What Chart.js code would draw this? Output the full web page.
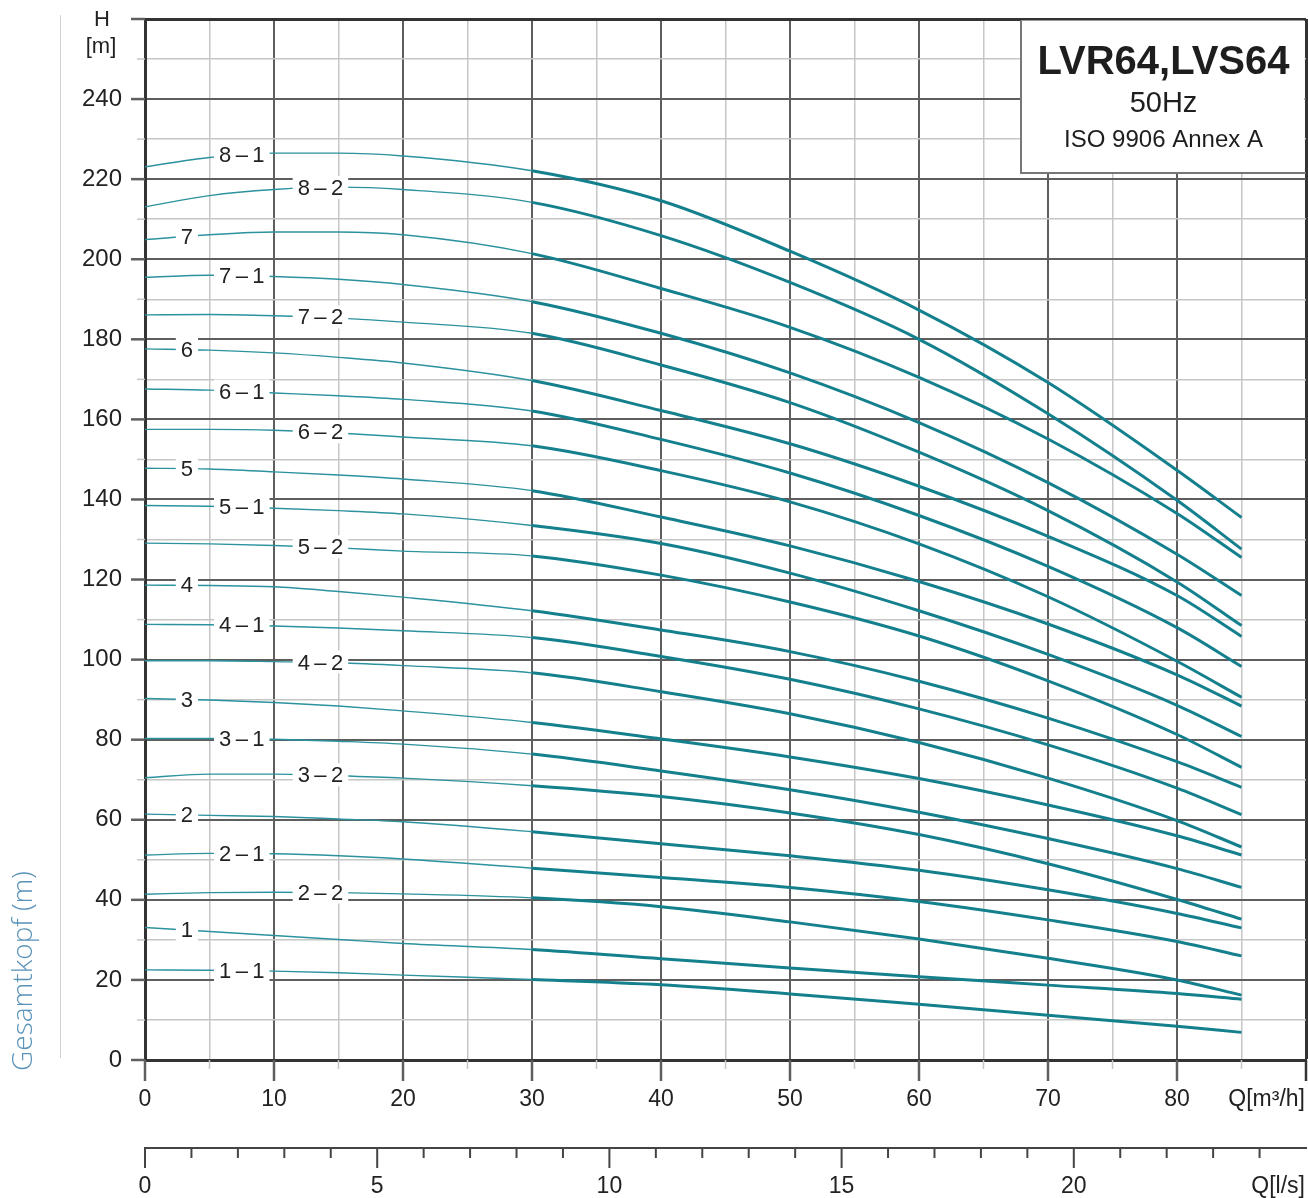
<!DOCTYPE html>
<html>
<head>
<meta charset="utf-8">
<title>LVR64, LVS64 – 50Hz</title>
<script src="https://cdn.jsdelivr.net/npm/chart.js@4.4.1/dist/chart.umd.min.js"></script>
<style>
  html, body { margin: 0; padding: 0; background: #fff; }
  canvas { display: block; }
</style>
</head>
<body>
<canvas id="pumpChart" width="1308" height="1198"></canvas>
<script>
// flow samples Q [m3/h], shared by every curve
const flowQ = [0, 5, 10, 15, 20, 30, 40, 50, 60, 70, 80, 85];

// curve names: stages - impeller trim
const curveNames = ['8-1', '8-2', '7', '7-1', '7-2', '6', '6-1', '6-2', '5', '5-1', '5-2',
  '4', '4-1', '4-2', '3', '3-1', '3-2', '2', '2-1', '2-2', '1', '1-1'];

// head H [m], one array per curve
const head81 = [223.1, 225.4, 226.5, 226.5, 225.8, 222.1, 214.6, 202.0, 187.3, 169.2, 147.3, 135.5];
const head82 = [213.1, 215.9, 217.4, 218.0, 217.4, 214.2, 205.9, 194.2, 180.0, 161.4, 139.8, 127.6];
const head7  = [204.9, 206.1, 206.8, 206.8, 206.1, 201.4, 192.7, 183.0, 170.5, 155.1, 136.5, 125.5];
const head71 = [195.5, 196.0, 195.7, 195.0, 193.7, 189.4, 181.5, 171.6, 159.2, 144.2, 126.3, 116.0];
const head72 = [186.1, 186.2, 185.9, 185.3, 184.3, 181.5, 173.6, 164.2, 151.8, 137.2, 119.4, 108.5];
const head6  = [177.6, 177.3, 176.6, 175.5, 174.1, 169.7, 162.2, 153.9, 143.3, 130.8, 116.0, 105.8];
const head61 = [167.6, 167.3, 166.6, 165.9, 165.0, 162.1, 155.0, 146.6, 136.0, 123.3, 108.0, 98.3];
const head62 = [157.5, 157.5, 157.3, 156.6, 155.6, 153.4, 147.2, 139.4, 128.9, 115.7, 99.6, 90.6];
const head5  = [147.8, 147.6, 146.9, 146.1, 145.1, 142.2, 135.6, 128.4, 119.5, 108.9, 96.2, 88.4];
const head51 = [138.5, 138.3, 137.8, 137.2, 136.4, 133.5, 129.0, 121.6, 112.2, 101.3, 88.6, 80.8];
const head52 = [129.1, 128.9, 128.5, 127.9, 127.1, 125.9, 121.1, 114.4, 105.9, 94.7, 81.3, 73.1];
const head4  = [118.6, 118.5, 118.2, 117.0, 115.6, 112.2, 107.4, 102.0, 94.6, 85.4, 74.5, 68.1];
const head41 = [108.8, 108.7, 108.4, 107.9, 107.2, 105.5, 100.8, 95.1, 87.7, 78.7, 67.9, 61.3];
const head42 = [99.7, 99.7, 99.5, 99.2, 98.5, 96.7, 92.0, 86.5, 79.3, 70.4, 59.8, 53.2];
const head3  = [90.3, 89.9, 89.3, 88.4, 87.2, 84.3, 80.2, 75.7, 70.3, 63.7, 56.0, 51.2];
const head31 = [80.3, 80.3, 80.1, 79.6, 78.9, 76.4, 72.2, 67.5, 61.9, 55.3, 47.8, 43.1];
const head32 = [70.5, 71.4, 71.4, 71.0, 70.4, 68.5, 65.8, 61.7, 56.3, 49.0, 40.1, 35.2];
const head2  = [61.4, 61.1, 60.8, 60.2, 59.5, 57.0, 54.0, 51.0, 47.4, 42.5, 36.6, 33.0];
const head21 = [51.2, 51.6, 51.5, 51.0, 50.2, 47.9, 45.6, 43.1, 39.6, 35.0, 29.6, 26.0];
const head22 = [41.4, 41.8, 41.9, 41.8, 41.5, 40.5, 38.3, 34.5, 30.2, 25.4, 20.0, 16.2];
const head1  = [33.1, 32.1, 31.1, 30.1, 29.1, 27.6, 25.3, 23.0, 20.8, 18.7, 16.6, 15.2];
const head11 = [22.5, 22.4, 22.2, 21.8, 21.2, 20.1, 18.8, 16.5, 13.9, 11.2, 8.4, 6.9];

const headCurves = [head81, head82, head7, head71, head72, head6, head61, head62, head5, head51, head52,
  head4, head41, head42, head3, head31, head32, head2, head21, head22, head1, head11];

// tick labels
const headTicks = [0, 20, 40, 60, 80, 100, 120, 140, 160, 180, 200, 220, 240];
const flowTicksM3h = [0, 10, 20, 30, 40, 50, 60, 70, 80];
const flowTicksLs = [0, 5, 10, 15, 20];

const FONT = '"Liberation Sans", Arial, Helvetica, sans-serif';
const TEAL_THIN = '#2b929e';
const TEAL_THICK = '#14808d';
const DARK = '#333';
const MAJOR = '#5e5e5e';
const MINOR = '#c6c6c6';

// where the curve tags sit along Q, by impeller trim
const tagQ = { '': 3.25, '1': 7.5, '2': 13.6 };

function headAt(arr, q) {
  for (let i = 1; i < flowQ.length; i++) {
    if (q <= flowQ[i]) {
      const t = (q - flowQ[i - 1]) / (flowQ[i] - flowQ[i - 1]);
      return arr[i - 1] + t * (arr[i] - arr[i - 1]);
    }
  }
  return arr[arr.length - 1];
}

// no label overhang padding, the plot box is set by the layout padding
function fitBox(size, key) {
  return s => {
    s[key] = size;
    s.paddingTop = 0; s.paddingBottom = 0; s.paddingLeft = 0; s.paddingRight = 0;
  };
}

const datasets = curveNames.map((name, i) => ({
  label: name,
  data: flowQ.map((q, j) => ({ x: q, y: headCurves[i][j] })),
  borderColor: TEAL_THIN,
  borderWidth: 1.4,
  pointRadius: 0,
  cubicInterpolationMode: 'monotone',
  fill: false,
  segment: {
    borderWidth: ctx => ctx.p0.parsed.x >= 30 ? 3 : 1.4,
    borderColor: ctx => ctx.p0.parsed.x >= 30 ? TEAL_THICK : TEAL_THIN
  }
}));

const decor = {
  id: 'decor',
  beforeDraw(chart) {
    const c = chart.ctx;
    c.save();
    c.fillStyle = '#fff';
    c.fillRect(0, 0, chart.width, chart.height);
    c.restore();
  },
  afterDatasetsDraw(chart) {
    const c = chart.ctx;
    const sx = chart.scales.x, sy = chart.scales.y;
    const area = chart.chartArea;

    // curve tags
    c.save();
    c.font = '22px ' + FONT;
    c.textAlign = 'center';
    c.textBaseline = 'middle';
    curveNames.forEach((name, i) => {
      const trim = name.split('-')[1] || '';
      const q = tagQ[trim];
      const px = sx.getPixelForValue(q);
      const py = sy.getPixelForValue(headAt(headCurves[i], q));
      const text = name.replace('-', '\u2009\u2013\u2009');
      const w = c.measureText(text).width + 10;
      c.fillStyle = '#fff';
      c.fillRect(px - w / 2, py - 12, w, 23);
      c.fillStyle = '#222';
      c.fillText(text, px, py + 1);
    });
    c.restore();

    // title box top right
    c.save();
    const bx = 1021, by = area.top + 1.5, bh = 173 - by;
    c.fillStyle = '#fff';
    c.fillRect(bx, by, area.right - 1.5 - bx, bh);
    c.strokeStyle = '#777';
    c.lineWidth = 2;
    c.beginPath();
    c.moveTo(bx, by);
    c.lineTo(bx, 173);
    c.lineTo(area.right, 173);
    c.stroke();
    const cx = bx + (area.right - bx) / 2;
    c.fillStyle = '#1e1e1e';
    c.textAlign = 'center';
    c.textBaseline = 'middle';
    c.font = 'bold 40px ' + FONT;
    c.fillText('LVR64,LVS64', cx, 63);
    c.font = '29px ' + FONT;
    c.fillText('50Hz', cx, 104);
    c.font = '24px ' + FONT;
    c.fillText('ISO 9906 Annex A', cx, 140);
    c.restore();
  },
  afterDraw(chart) {
    const c = chart.ctx;
    const sx = chart.scales.x, sy = chart.scales.y, s2 = chart.scales.x2;
    const area = chart.chartArea;
    c.save();

    // tick marks on the m3/h axis
    for (let v = 0; v <= 90; v += 5) {
      const px = sx.getPixelForValue(v);
      const major = v % 10 === 0;
      c.strokeStyle = major ? (v === 90 ? DARK : MAJOR) : MINOR;
      c.lineWidth = major ? 2.5 : 1.5;
      c.beginPath();
      c.moveTo(px, area.bottom);
      c.lineTo(px, area.bottom + (major ? 21 : 9));
      c.stroke();
    }
    // tick marks on the H axis
    for (let v = 0; v <= 260; v += 10) {
      const py = sy.getPixelForValue(v);
      const major = v % 20 === 0;
      c.strokeStyle = major ? MAJOR : MINOR;
      c.lineWidth = major ? 2.5 : 1.5;
      c.beginPath();
      c.moveTo(area.left - (major ? 14 : 8), py);
      c.lineTo(area.left, py);
      c.stroke();
    }
    // tick marks on the l/s axis
    const y2 = s2.top;
    for (let v = 0; v <= 24; v++) {
      const px = s2.getPixelForValue(v);
      const major = v % 5 === 0;
      c.strokeStyle = '#444';
      c.lineWidth = 2;
      c.beginPath();
      c.moveTo(px, y2);
      c.lineTo(px, y2 + (major ? 20 : 10));
      c.stroke();
    }

    // unit labels
    c.fillStyle = '#222';
    c.font = '23px ' + FONT;
    c.textBaseline = 'middle';
    c.textAlign = 'right';
    c.fillText('Q[m\u00b3/h]', 1305, 1100);
    c.fillText('Q[l/s]', 1305, 1187);
    c.textAlign = 'center';
    c.font = '22px ' + FONT;
    c.fillText('H', 102, 20);
    c.fillText('[m]', 101, 47);

    // side rule and rotated caption
    c.strokeStyle = '#d2d2d2';
    c.lineWidth = 1;
    c.beginPath();
    c.moveTo(60.5, 15);
    c.lineTo(60.5, 1058);
    c.stroke();
    c.translate(24, 971);
    c.rotate(-Math.PI / 2);
    c.fillStyle = '#5b93b8';
    c.font = '300 28px "Open Sans", Lato, sans-serif';
    c.textAlign = 'center';
    c.fillText('Gesamtkopf (m)', 0, 0);
    c.restore();
  }
};

new Chart(document.getElementById('pumpChart'), {
  type: 'line',
  data: { datasets },
  plugins: [decor],
  options: {
    responsive: false,
    devicePixelRatio: 1,
    animation: false,
    layout: { padding: { left: 0, right: 2, top: 19, bottom: 0 } },
    plugins: {
      legend: { display: false },
      tooltip: { enabled: false },
      title: { display: false }
    },
    scales: {
      x: {
        type: 'linear',
        position: 'bottom',
        weight: 0,
        min: 0,
        max: 90,
        afterFit: fitBox(88, 'height'),
        ticks: {
          stepSize: 5,
          autoSkip: false,
          maxRotation: 0,
          padding: 26,
          color: '#222',
          font: { family: FONT, size: 23 },
          callback: v => flowTicksM3h.includes(v) ? String(v) : ''
        },
        grid: {
          drawTicks: false,
          color: ctx => ctx.tick.value === 90 ? DARK : (ctx.tick.value % 10 === 0 ? MAJOR : MINOR),
          lineWidth: ctx => ctx.tick.value === 90 ? 3 : (ctx.tick.value % 10 === 0 ? 2 : 1.5)
        },
        border: { color: DARK, width: 3 }
      },
      x2: {
        type: 'linear',
        position: 'bottom',
        weight: 1,
        min: 0,
        max: 25,
        afterFit: fitBox(50, 'height'),
        ticks: {
          stepSize: 1,
          autoSkip: false,
          maxRotation: 0,
          padding: 25,
          color: '#222',
          font: { family: FONT, size: 23 },
          callback: v => flowTicksLs.includes(v) ? String(v) : ''
        },
        grid: { drawOnChartArea: false, drawTicks: false },
        border: { color: '#444', width: 2 }
      },
      y: {
        type: 'linear',
        min: 0,
        max: 260,
        afterFit: fitBox(145, 'width'),
        ticks: {
          stepSize: 10,
          autoSkip: false,
          padding: 23,
          color: '#222',
          font: { family: FONT, size: 24 },
          callback: v => headTicks.includes(v) ? String(v) : ''
        },
        grid: {
          drawTicks: false,
          color: ctx => ctx.tick.value === 260 ? DARK : (ctx.tick.value % 20 === 0 ? MAJOR : MINOR),
          lineWidth: ctx => ctx.tick.value === 260 ? 3 : (ctx.tick.value % 20 === 0 ? 2 : 1.5)
        },
        border: { color: DARK, width: 3 }
      }
    }
  }
});
</script>
</body>
</html>
